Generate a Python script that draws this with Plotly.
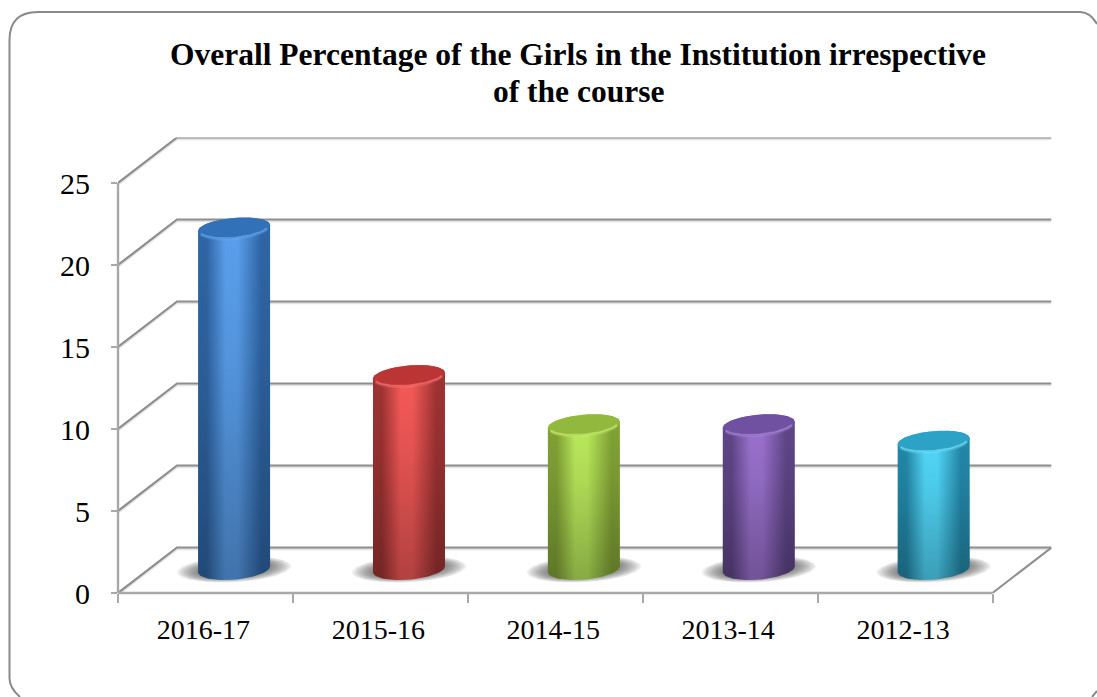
import numpy as np
import plotly.graph_objects as go

# ---- data ----
categories = ["2016-17", "2015-16", "2014-15", "2013-14", "2012-13"]
values = [20.8, 11.8, 8.8, 8.8, 7.8]
y_ticks = [0, 5, 10, 15, 20, 25]
title_lines = ["Overall Percentage of the Girls in the Institution irrespective",
               "of the course"]

# ---- colours: edge, centre, cap ----
edge_colors = ["#2f66a6", "#a03333", "#82a436", "#604689", "#2389aa"]
mid_colors = ["#5aa0ee", "#f65a58", "#bcec5c", "#9c72d0", "#52dafc"]
cap_colors = ["#3270b8", "#bb3534", "#92b83e", "#7050a0", "#2ca2c6"]
rim_colors = ["#6fb0f5", "#ff7a78", "#d0f57a", "#b48fe0", "#7fe8ff"]

# ---- geometry (pixels per axis unit) ----
W, H = 1097, 697
X0, Y0 = 118, 593         # pixel of the axis origin
PX_X, PX_Y = 174.9, 16.4  # pixels per category / per value
DX, DY = 59, 45.5         # depth of the 3-D box in pixels
RIGHT, TOP = X0 + 5 * PX_X + DX, Y0 - 25 * PX_Y - DY
x_max = (RIGHT - X0) / PX_X
y_max = (Y0 - TOP) / PX_Y
dx_u, dy_u = DX / PX_X, DY / PX_Y
GRID = "#8e8e8e"
AXIS = "#a8a8a8"


def ell(cx, cy, a, b, tilt, t):
    """Tilted ellipse; a,b,tilt in pixels, cx,cy in axis units."""
    return (cx + a * np.cos(t) / PX_X,
            cy + (b * np.sin(t) + tilt * np.cos(t)) / PX_Y)


fig = go.Figure()


def line(xs, ys, color, width):
    fig.add_trace(go.Scatter(x=xs, y=ys, mode="lines", hoverinfo="skip", cliponaxis=False,
                             line=dict(color=color, width=width), showlegend=False))


# back wall, side wall and floor
for v in y_ticks:
    xs = [0, dx_u, x_max]
    ys = [v, v + dy_u, v + dy_u]
    line(xs, [p - 0.07 for p in ys], "#e2e2e2", 3)
    line(xs, ys, GRID, 2.2)
line([5, x_max], [0, dy_u], GRID, 2)

# cylinders
A, B, TILT = 36, 10.3, 3
for i, (v, e, m, c, r) in enumerate(zip(values, edge_colors, mid_colors, cap_colors, rim_colors)):
    cx = i + 0.5 + 0.5 * dx_u - 0.005
    cy0 = 0.5 * dy_u + 0.06
    cy1 = cy0 + v

    # soft shadow: stacked translucent ellipses
    tt = np.linspace(0, 2 * np.pi, 80)
    for k in range(16):
        f = 1 - k * 0.04
        sx, sy = ell(cx, cy0, 57 * f, 13 * f, TILT, tt)
        fig.add_trace(go.Scatter(x=sx, y=sy, mode="lines", fill="toself", hoverinfo="skip",
                                 fillcolor="rgba(70,70,70,0.09)", line=dict(width=0),
                                 showlegend=False))

    # body
    t_top = np.linspace(np.pi, 0, 40)
    t_bot = np.linspace(0, -np.pi, 40)
    xa, ya = ell(cx, cy1, A, B, TILT, t_top)
    xb, yb = ell(cx, cy0, A, B, TILT, t_bot)
    bx = np.r_[xa, xb, xa[0]]
    by = np.r_[ya, yb, ya[0]]
    fig.add_trace(go.Scatter(
        x=bx, y=by, mode="lines", fill="toself", hoverinfo="skip", line=dict(width=0),
        fillgradient=dict(type="horizontal", colorscale=[
            [0, e], [0.12, e], [0.38, m], [0.55, m], [0.88, e], [1, e]]),
        showlegend=False))
    # darkening towards the floor
    fig.add_trace(go.Scatter(
        x=bx, y=by, mode="lines", fill="toself", hoverinfo="skip", line=dict(width=0),
        fillgradient=dict(type="vertical", colorscale=[
            [0, "rgba(0,0,0,0.28)"], [0.6, "rgba(0,0,0,0.08)"], [1, "rgba(0,0,0,0)"]]),
        showlegend=False))

    # cap with soft lit front rim
    cxs, cys = ell(cx, cy1, A, B, TILT, tt)
    fig.add_trace(go.Scatter(x=cxs, y=cys, mode="lines", fill="toself", fillcolor=c,
                             hoverinfo="skip", line=dict(width=0), showlegend=False))
    rim_t = np.linspace(-0.10 * np.pi, -0.90 * np.pi, 30)
    rx, ry = ell(cx, cy1, A - 1, B, TILT, rim_t)
    fig.add_trace(go.Scatter(x=rx, y=ry, mode="lines", hoverinfo="skip",
                             line=dict(color=r, width=3.5), opacity=0.3, showlegend=False))
    rx, ry = ell(cx, cy1, A - 1, B - 0.7, TILT, rim_t)
    fig.add_trace(go.Scatter(x=rx, y=ry, mode="lines", hoverinfo="skip",
                             line=dict(color=r, width=1.4), opacity=0.55, showlegend=False))

axis_font = dict(family="Liberation Serif", color="#000000")
title_font = dict(family="Liberation Serif", size=31.5, color="#000000", weight="bold")
title_y = [55, 91]

fig.update_layout(
    template="none",
    width=W, height=H,
    margin=dict(l=0, r=0, t=0, b=0, autoexpand=False),
    paper_bgcolor="white", plot_bgcolor="rgba(0,0,0,0)",
    showlegend=False,
    xaxis=dict(
        automargin=False,
        domain=[X0 / W, RIGHT / W], range=[0, x_max], showgrid=False, zeroline=False,
        showline=False, tickmode="array", tickvals=[i + 0.5 for i in range(len(categories))],
        ticktext=categories, ticks="", tickfont=dict(size=28, **axis_font),
        ticklabelstandoff=17, ticklabelshift=-2,
        minor=dict(tickmode="array", tickvals=list(range(6)), ticks="outside", ticklen=9,
                   tickwidth=2, tickcolor=AXIS, showgrid=False),
    ),
    yaxis=dict(
        automargin=False,
        domain=[(H - Y0) / H, (H - TOP) / H], range=[0, y_max], showgrid=False, zeroline=False,
        showline=False, tickmode="array", tickvals=y_ticks, ticktext=[str(v) for v in y_ticks],
        ticks="outside", ticklen=6, tickwidth=2, tickcolor=AXIS,
        tickfont=dict(size=30, **axis_font), ticklabelstandoff=15,
    ),
    annotations=[dict(
        text=txt, xref="paper", yref="paper", x=578 / W, y=1 - py / H,
        xanchor="center", yanchor="middle", showarrow=False, align="center",
        font=title_font,
    ) for txt, py in zip(title_lines, title_y)],
    shapes=[
        dict(type="path", xref="paper", yref="paper", layer="below",
             path=("M {x1} 0 Q {l} {b2} {l} {b} L {l} {t1} Q {l} {t} {l1} {t} L {r1} {t} Q {r2} {t} 1 {t2}".format(
                 x1=20 / W, b2=1 - 688 / H, b=1 - 678 / H, l=9.5 / W, t1=1 - 40 / H, t=1 - 12 / H,
                 l1=38 / W, r1=1080 / W, r2=1090 / W, t2=1 - 24 / H)),
             line=dict(color="#8a8a8a", width=2)),
        dict(type="line", xref="paper", yref="paper", x0=1092 / W, y0=0, x1=1, y1=6 / H,
             line=dict(color="#8a8a8a", width=2)),
        # axis lines on top of the box, following the axis scales
        dict(type="line", xref="paper", yref="y", x0=X0 / W, x1=X0 / W, y0=0, y1=25,
             line=dict(color=AXIS, width=2.4), layer="above"),
        dict(type="line", xref="x", yref="paper", x0=0, x1=5, y0=(H - Y0) / H, y1=(H - Y0) / H,
             line=dict(color=AXIS, width=2.4), layer="above"),
    ],
)

fig.write_html("out.html", config={"displayModeBar": False},
               post_script="document.body.style.margin='0';")
